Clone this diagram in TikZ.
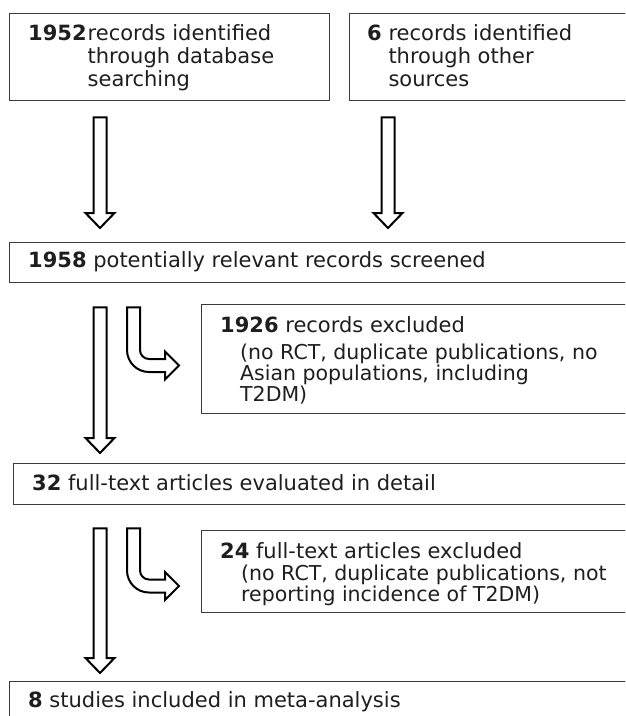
\documentclass[tikz,border=0pt]{standalone}
\usepackage{fontspec}
\setmainfont{DejaVu Sans}
\usetikzlibrary{calc}
\definecolor{boxgray}{HTML}{3A3A3A}
\definecolor{txtcol}{HTML}{1E1E1E}
\newcommand\mainsize{\fontsize{21}{23}\selectfont}
\newcommand\subsize{\fontsize{20.5}{19}\selectfont}
\tikzset{
  box/.style={draw=boxgray, line width=1.3pt, anchor=north west, inner sep=0pt},
  txt/.style={anchor=base west, inner sep=0pt, font=\mainsize, text=txtcol},
  subtxt/.style={anchor=base west, inner sep=0pt, font=\subsize, text=txtcol},
  fat/.style={draw=black, line width=2pt, fill=white, line join=miter}
}
\newcommand\fatdown[2]{%
  \draw[fat] let \p1=(#1), \p2=(#2) in
    (\x1-6.5pt,\y1) -- (\x1-6.5pt,\y2+15pt) -- (\x1-14.5pt,\y2+15pt) -- (\x1,\y2)
    -- (\x1+14.5pt,\y2+15pt) -- (\x1+6.5pt,\y2+15pt) -- (\x1+6.5pt,\y1) -- cycle;}
\newcommand\fatbend[2]{%
  \draw[fat] let \p1=(#1), \p2=(#2) in
    (\x1-6.5pt,\y1) -- (\x1-6.5pt,\y2+15.5pt)
    arc[start angle=180, end angle=270, radius=22pt]
    -- (\x2-14pt,\y2-6.5pt) -- (\x2-14pt,\y2-14pt) -- (\x2,\y2)
    -- (\x2-14pt,\y2+14pt) -- (\x2-14pt,\y2+6.5pt) -- (\x1+15.5pt,\y2+6.5pt)
    arc[start angle=270, end angle=180, radius=9pt]
    -- (\x1+6.5pt,\y1) -- cycle;}
\begin{document}
\begin{tikzpicture}[x=1pt,y=-1pt]
\useasboundingbox (0,0) rectangle (625,716);
\clip (0,0) rectangle (625,716);
\node[box, minimum width=320pt, minimum height=87pt] (rec1) at (9,13) {};
\node[box, minimum width=300pt, minimum height=87pt] (rec2) at (349,13) {};
\node[box, minimum width=640pt, minimum height=40pt] (scr) at (9,242) {};
\node[box, minimum width=450pt, minimum height=109pt] (exc1) at (201,304) {};
\node[box, minimum width=640pt, minimum height=41pt] (full) at (13,463) {};
\node[box, minimum width=450pt, minimum height=82pt] (exc2) at (201,530) {};
\node[box, minimum width=640pt, minimum height=60pt] (incl) at (9,681) {};
\node[txt] (rec1txt) at ($(rec1.north west)+(19,27)$)
  {\begin{tabular}[t]{@{}l@{}l@{}}\textbf{1952}\kern1pt&records identified\\&through database\\&searching\end{tabular}};
\node[txt] (rec2txt) at ($(rec2.north west)+(18,27)$)
  {\begin{tabular}[t]{@{}l@{}l@{}}\textbf{6}\kern6.7pt&records identified\\&through other\\&sources\end{tabular}};
\node[txt] (scrtxt) at ($(scr.north west)+(19,25)$) {\textbf{1958} potentially relevant records screened};
\node[txt] (exc1txt) at ($(exc1.north west)+(19,28)$) {\textbf{1926} records excluded};
\node[subtxt] (exc1sub) at ($(exc1.north west)+(39,55)$)
  {\begin{tabular}[t]{@{}l@{}}(no RCT, duplicate publications, no\\Asian populations, including\\T2DM)\end{tabular}};
\node[txt] (fulltxt) at ($(full.north west)+(19,27)$) {\textbf{32} full-text articles evaluated in detail};
\node[txt] (exc2txt) at ($(exc2.north west)+(19,28)$) {\textbf{24} full-text articles excluded};
\node[subtxt] (exc2sub) at ($(exc2.north west)+(40,50)$)
  {\begin{tabular}[t]{@{}l@{}}(no RCT, duplicate publications, not\\reporting incidence of T2DM)\end{tabular}};
\node[txt] (incltxt) at ($(incl.north west)+(19,26)$) {\textbf{8} studies included in meta-analysis};
\coordinate (colA) at (100,0);
\coordinate (colB) at (388,0);
\coordinate (colC) at (133.5,0);
\fatdown{$(rec1.south -| colA)+(0,16)$}{$(scr.north -| colA)+(0,-14)$}
\fatdown{$(rec2.south -| colB)+(0,16)$}{$(scr.north -| colB)+(0,-14)$}
\fatdown{$(scr.south -| colA)+(0,24)$}{$(full.north -| colA)+(0,-10)$}
\fatdown{$(full.south -| colA)+(0,23)$}{$(incl.north -| colA)+(0,-8)$}
\fatbend{$(scr.south -| colC)+(0,24)$}{$(exc1.north west)+(-22,61.5)$}
\fatbend{$(full.south -| colC)+(0,23)$}{$(exc2.north west)+(-22,56)$}
\end{tikzpicture}
\end{document}
